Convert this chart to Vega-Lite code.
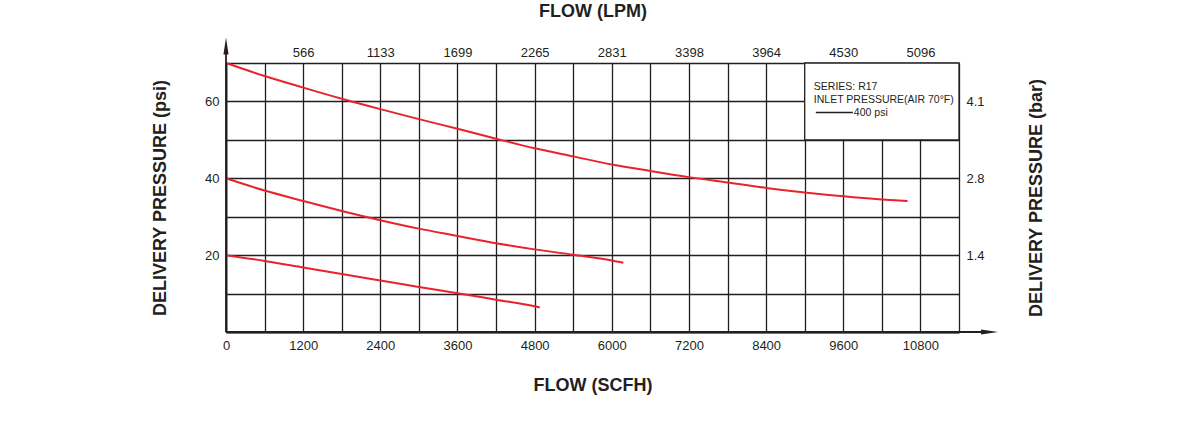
{
  "$schema": "https://vega.github.io/schema/vega-lite/v6.json",
  "width": 733,
  "height": 269,
  "autosize": {"type": "none"},
  "padding": {"left": 226, "top": 63, "right": 241, "bottom": 101},
  "background": "white",
  "config": {"view": {"stroke": null}, "font": "Liberation Sans"},
  "data": {
    "values": [
      {"series": "A", "flow": 0, "psi": 70},
      {"series": "A", "flow": 600, "psi": 66.6},
      {"series": "A", "flow": 1200, "psi": 63.6},
      {"series": "A", "flow": 1800, "psi": 60.7},
      {"series": "A", "flow": 2400, "psi": 58.0},
      {"series": "A", "flow": 3000, "psi": 55.4},
      {"series": "A", "flow": 3600, "psi": 52.9},
      {"series": "A", "flow": 4200, "psi": 50.3},
      {"series": "A", "flow": 4800, "psi": 47.8},
      {"series": "A", "flow": 5400, "psi": 45.7},
      {"series": "A", "flow": 6000, "psi": 43.6},
      {"series": "A", "flow": 6600, "psi": 41.9},
      {"series": "A", "flow": 7200, "psi": 40.3},
      {"series": "A", "flow": 7800, "psi": 38.9},
      {"series": "A", "flow": 8400, "psi": 37.5},
      {"series": "A", "flow": 9000, "psi": 36.3},
      {"series": "A", "flow": 9600, "psi": 35.3},
      {"series": "A", "flow": 10200, "psi": 34.5},
      {"series": "A", "flow": 10600, "psi": 34.1},
      {"series": "B", "flow": 0, "psi": 40},
      {"series": "B", "flow": 600, "psi": 36.8},
      {"series": "B", "flow": 1200, "psi": 34.1},
      {"series": "B", "flow": 1800, "psi": 31.5},
      {"series": "B", "flow": 2400, "psi": 29.1},
      {"series": "B", "flow": 3000, "psi": 26.9},
      {"series": "B", "flow": 3600, "psi": 25.0},
      {"series": "B", "flow": 4200, "psi": 23.1},
      {"series": "B", "flow": 4800, "psi": 21.5},
      {"series": "B", "flow": 5400, "psi": 20.1},
      {"series": "B", "flow": 6000, "psi": 18.6},
      {"series": "B", "flow": 6180, "psi": 18.0},
      {"series": "C", "flow": 0, "psi": 20},
      {"series": "C", "flow": 600, "psi": 18.5},
      {"series": "C", "flow": 1200, "psi": 16.8},
      {"series": "C", "flow": 1800, "psi": 15.1},
      {"series": "C", "flow": 2400, "psi": 13.4},
      {"series": "C", "flow": 3000, "psi": 11.7},
      {"series": "C", "flow": 3600, "psi": 10.1},
      {"series": "C", "flow": 4200, "psi": 8.4},
      {"series": "C", "flow": 4800, "psi": 6.7},
      {"series": "C", "flow": 4880, "psi": 6.4}
    ]
  },
  "resolve": {"axis": {"x": "independent", "y": "independent"}},
  "layer": [
    {
      "mark": {"type": "line", "interpolate": "monotone", "color": "#e8232b", "strokeWidth": 2},
      "encoding": {
        "x": {
          "field": "flow", "type": "quantitative",
          "scale": {"domain": [0, 11400], "nice": false, "zero": false},
          "axis": {
            "orient": "bottom",
            "values": [0, 600, 1200, 1800, 2400, 3000, 3600, 4200, 4800, 5400, 6000, 6600, 7200, 7800, 8400, 9000, 9600, 10200, 10800, 11400],
            "format": "d",
            "labelExpr": "datum.value % 1200 === 0 && datum.value <= 10800 ? datum.label : ''",
            "grid": true, "gridColor": "#231f20", "gridWidth": 1.3, "gridOpacity": 1,
            "domain": true, "domainColor": "#231f20", "domainWidth": 1.8,
            "ticks": false, "labelPadding": 7, "labelFontSize": 13, "labelColor": "#231f20",
            "labelFlush": false, "labelOverlap": false, "labelBound": false,
            "title": "FLOW (SCFH)", "titleFontSize": 18, "titleFontWeight": "bold", "titleColor": "#231f20", "titlePadding": 24
          }
        },
        "y": {
          "field": "psi", "type": "quantitative",
          "scale": {"domain": [0, 70], "nice": false},
          "axis": {
            "orient": "left",
            "values": [0, 10, 20, 30, 40, 50, 60, 70],
            "labelExpr": "datum.value == 20 || datum.value == 40 || datum.value == 60 ? datum.label : ''",
            "grid": true, "gridColor": "#231f20", "gridWidth": 1.3, "gridOpacity": 1,
            "domain": true, "domainColor": "#231f20", "domainWidth": 1.8,
            "ticks": false, "labelPadding": 7, "labelFontSize": 13, "labelColor": "#231f20",
            "labelOverlap": false, "labelBound": false,
            "title": "DELIVERY PRESSURE (psi)", "titleFontSize": 18, "titleFontWeight": "bold", "titleColor": "#231f20", "titlePadding": 35
          }
        },
        "detail": {"field": "series"}
      }
    },
    {
      "data": {"values": [{}]},
      "mark": {"type": "rect", "fill": "white", "stroke": "#231f20", "strokeWidth": 1.3},
      "encoding": {
        "x": {
          "datum": 9000, "type": "quantitative",
          "axis": {
            "orient": "top",
            "values": [1200, 2400, 3600, 4800, 6000, 7200, 8400, 9600, 10800],
            "labelExpr": "['566','1133','1699','2265','2831','3398','3964','4530','5096'][round(datum.value / 1200) - 1]",
            "grid": false, "domain": false, "ticks": false,
            "labelPadding": 4, "labelFontSize": 13, "labelColor": "#231f20", "labelOverlap": false, "labelBound": false, "labelFlush": false,
            "title": "FLOW (LPM)", "titleFontSize": 18, "titleFontWeight": "bold", "titleColor": "#231f20", "titlePadding": 26
          }
        },
        "x2": {"datum": 11400},
        "y": {
          "datum": 50, "type": "quantitative",
          "axis": {
            "orient": "right",
            "values": [20, 40, 60],
            "labelExpr": "datum.value == 60 ? '4.1' : datum.value == 40 ? '2.8' : '1.4'",
            "grid": false, "domain": false, "ticks": false,
            "labelPadding": 7, "labelFontSize": 13, "labelColor": "#231f20", "labelOverlap": false, "labelBound": false,
            "title": "DELIVERY PRESSURE (bar)", "titleAngle": 270, "titleFontSize": 18, "titleFontWeight": "bold", "titleColor": "#231f20", "titlePadding": 61
          }
        },
        "y2": {"datum": 70}
      }
    },
    {
      "data": {"values": [{}]},
      "mark": {"type": "rule", "color": "#231f20", "strokeWidth": 1.8},
      "encoding": {
        "x": {"datum": 0, "type": "quantitative", "axis": null},
        "y": {"datum": 0, "type": "quantitative", "axis": null},
        "y2": {"datum": 73}
      }
    },
    {
      "data": {"values": [{}]},
      "mark": {"type": "rule", "color": "#231f20", "strokeWidth": 1.8},
      "encoding": {
        "x": {"datum": 0, "type": "quantitative", "axis": null},
        "x2": {"datum": 11800},
        "y": {"datum": 0, "type": "quantitative", "axis": null}
      }
    },
    {
      "data": {"values": [{}]},
      "mark": {"type": "point", "shape": "M0,-1L0.3,1L-0.3,1Z", "filled": true, "size": 289, "color": "#231f20", "opacity": 1, "strokeWidth": 0},
      "encoding": {
        "x": {"datum": 0, "type": "quantitative", "axis": null},
        "y": {"datum": 74.4, "type": "quantitative", "axis": null}
      }
    },
    {
      "data": {"values": [{}]},
      "mark": {"type": "point", "shape": "M1,0L-1,-0.3L-1,0.3Z", "filled": true, "size": 289, "color": "#231f20", "opacity": 1, "strokeWidth": 0},
      "encoding": {
        "x": {"datum": 11875, "type": "quantitative", "axis": null},
        "y": {"datum": 0, "type": "quantitative", "axis": null}
      }
    },
    {
      "data": {"values": [{}]},
      "mark": {"type": "rule", "color": "#231f20", "strokeWidth": 1.5},
      "encoding": {
        "x": {"datum": 9173, "type": "quantitative", "axis": null},
        "x2": {"datum": 9749},
        "y": {"datum": 57.1, "type": "quantitative", "axis": null}
      }
    },
    {
      "data": {"values": [{"label": "SERIES: R17", "lx": 9142, "ly": 63.8}, {"label": "INLET PRESSURE(AIR 70°F)", "lx": 9142, "ly": 60.4}, {"label": "400 psi", "lx": 9765, "ly": 56.9}]},
      "mark": {"type": "text", "align": "left", "baseline": "middle", "fontSize": 10.5, "color": "#231f20"},
      "encoding": {
        "x": {"field": "lx", "type": "quantitative", "axis": null},
        "y": {"field": "ly", "type": "quantitative", "axis": null},
        "text": {"field": "label"}
      }
    }
  ]
}
